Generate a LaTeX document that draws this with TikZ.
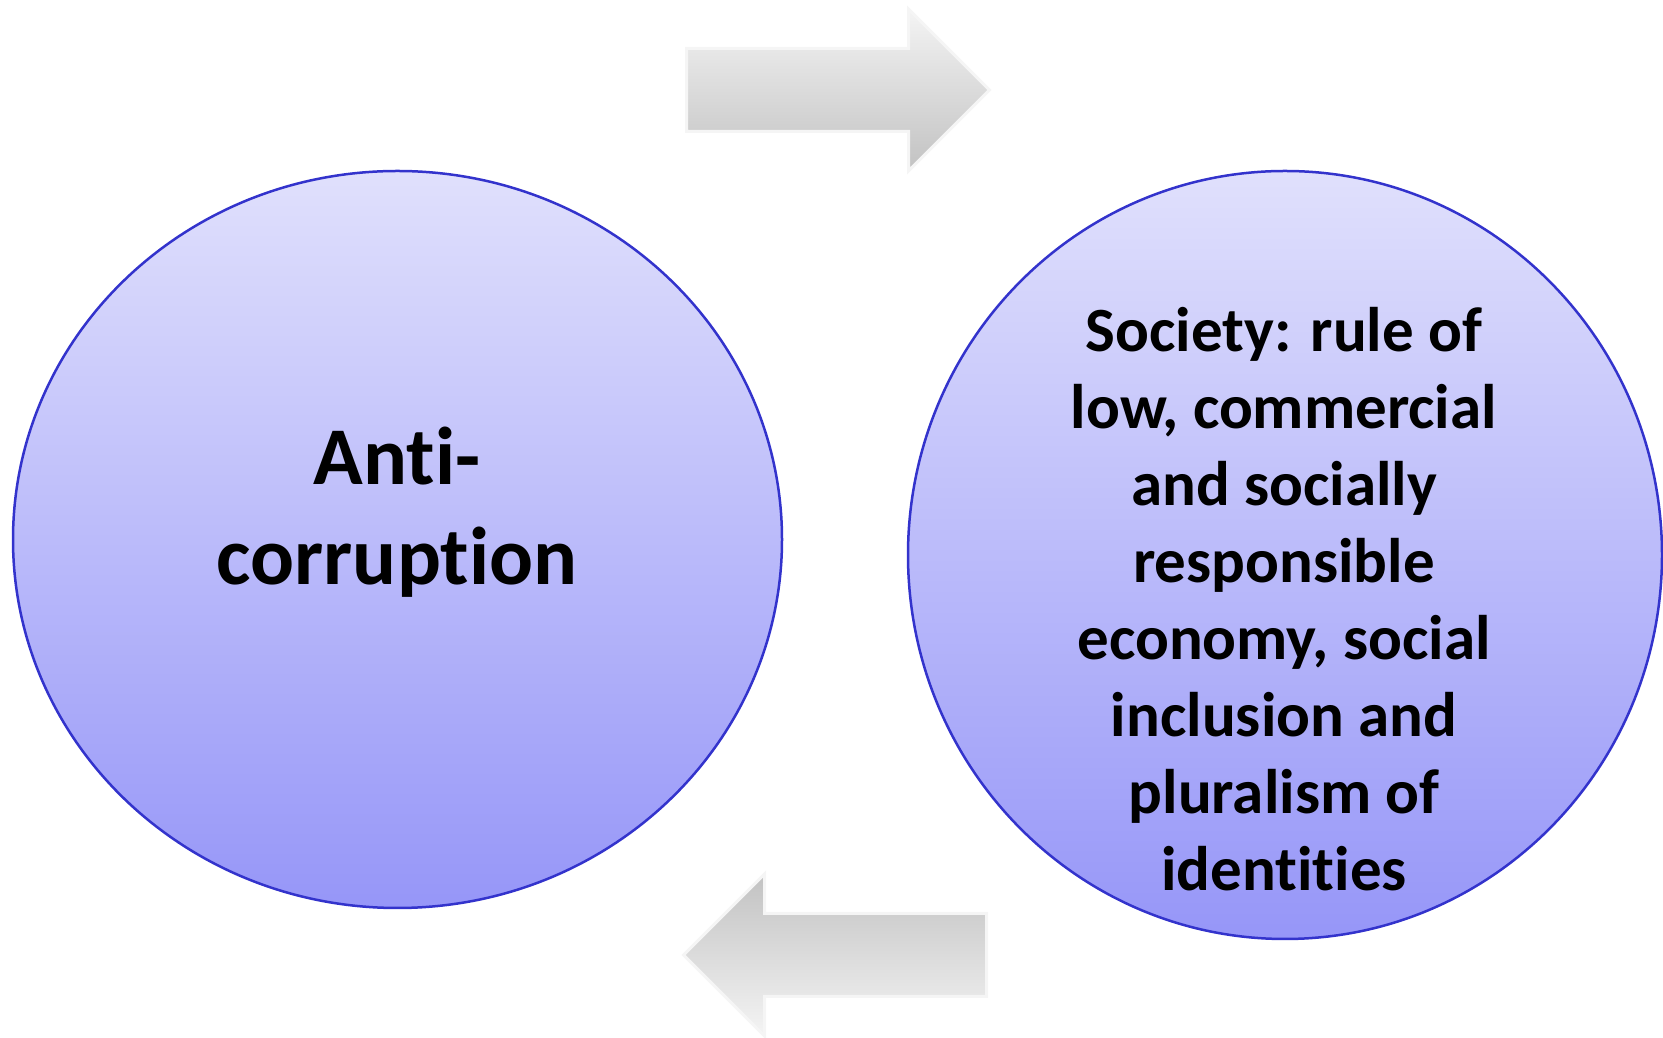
\documentclass[tikz,border=0pt]{standalone}
\usepackage{fontspec}
\setmainfont{Carlito}[Ligatures=NoCommon]
\usetikzlibrary{shapes.geometric,shapes.arrows}
\definecolor{ringtop}{RGB}{224,224,252}
\definecolor{ringbot}{RGB}{150,150,248}
\definecolor{ringline}{RGB}{51,51,204}
\definecolor{arrowlight}{RGB}{244,244,244}
\definecolor{arrowdark}{RGB}{194,194,194}
\begin{document}
\begin{tikzpicture}[x=1pt,y=1pt,
    ring/.style={ellipse,draw=ringline,line width=2.5pt,top color=ringtop,bottom color=ringbot,inner sep=0pt},
    flow/.style={single arrow,draw=black!4,line width=3pt,minimum height=303pt,minimum width=0pt,
      single arrow head extend=39.5pt,single arrow head indent=0pt,inner xsep=0pt,inner ysep=40pt,anchor=tail}]
    \useasboundingbox (0,0) rectangle (1663,1038);
    \node[ring,minimum width=769pt,minimum height=737pt] (anti) at (397.5,498.5) {};
    \node[ring,minimum width=754pt,minimum height=768pt] (society) at (1285,483) {};
    \node[font=\fontsize{82}{100}\selectfont\bfseries,align=center] (antitext) at (397,526) {Anti-\\corruption};
    \node[font=\fontsize{63}{77}\selectfont\bfseries,align=center] (societytext) at (1284,439)
        {Society: rule of\\low, commercial\\and socially\\responsible\\economy, social\\inclusion and\\pluralism of\\identities};
    % arrows between the two circles
    \node[flow,top color=arrowlight,bottom color=arrowdark] (forward) at (685,948) {};
    \node[flow,shape border rotate=180,top color=arrowdark,bottom color=arrowlight] (backward) at (988,83) {};
\end{tikzpicture}
\end{document}
